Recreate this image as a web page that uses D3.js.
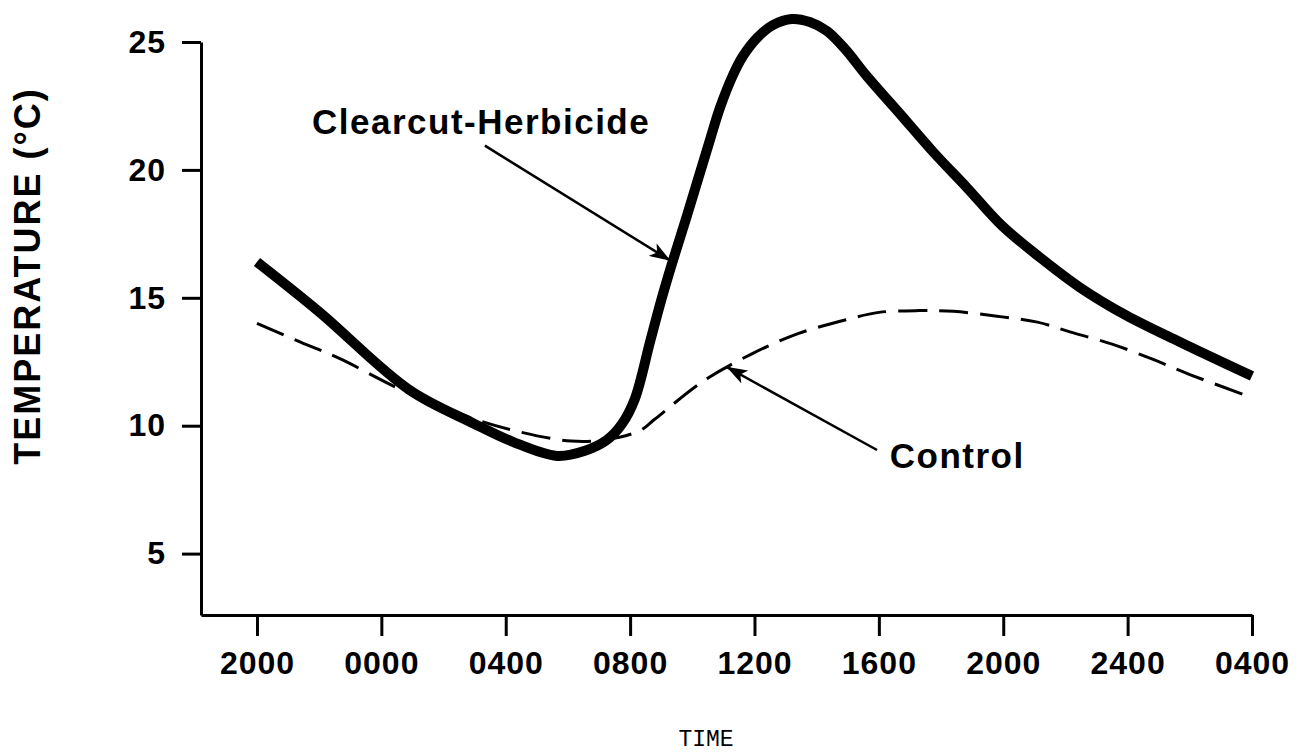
<!DOCTYPE html>
<html>
<head>
<meta charset="utf-8">
<script src="https://cdn.jsdelivr.net/npm/d3@7"></script>
<style>
  body { margin: 0; background: #fff; }
  svg { display: block; }
</style>
</head>
<body>
<script>
// x = hours after 2000 h on the first evening
const tickHours = [0, 4, 8, 12, 16, 20, 24, 28, 32];
const tickLabels = ["2000", "0000", "0400", "0800", "1200", "1600", "2000", "2400", "0400"];
const tempTicks = [5, 10, 15, 20, 25];

// Clearcut-Herbicide
const clearcutHours = [0, 2, 4.9, 6.95, 8.23, 9.65, 10.55, 11.25, 11.74, 12.15, 12.64, 12.99, 13.34, 13.83, 14.57, 14.89, 15.31, 15.63, 16.08, 16.59, 17.2, 17.78, 18.33, 18.91, 19.61, 20.68, 21.74, 22.83, 23.95, 25.18, 26.46, 27.94, 29.68, 32];
const clearcutTemps = [16.4, 14.45, 11.4, 10.1, 9.37, 8.82, 9.02, 9.44, 10.07, 11.04, 13.27, 14.86, 16.31, 18.22, 21.18, 22.43, 23.71, 24.45, 25.16, 25.66, 25.9, 25.78, 25.43, 24.73, 23.67, 22.19, 20.71, 19.31, 17.83, 16.58, 15.41, 14.32, 13.27, 11.94];

// Control
const controlHours = [0, 1.4, 2.7, 4.6, 6.9, 8.3, 10.1, 11.2, 12.3, 12.8, 14.3, 15.9, 17.4, 19.0, 20.0, 21.3, 22.4, 23.8, 25.1, 26.2, 27.5, 28.8, 30.0, 32];
const controlTemps = [14.0, 13.27, 12.6, 11.43, 10.3, 9.8, 9.4, 9.45, 9.8, 10.26, 11.7, 12.8, 13.6, 14.16, 14.43, 14.5, 14.47, 14.28, 14.05, 13.65, 13.19, 12.6, 12.0, 11.1];

const clearcut = clearcutHours.map((h, i) => ({ h: h, t: clearcutTemps[i] }));
const control = controlHours.map((h, i) => ({ h: h, t: controlTemps[i] }));

// annotations in data units: label anchor, arrow start, arrow tip
const notes = [
  { text: "Clearcut-Herbicide", at: [1.77, 21.4], from: [7.33, 20.95], to: [13.3, 16.45] },
  { text: "Control", at: [20.35, 8.35], from: [19.94, 9.05], to: [15.1, 12.3] }
];

const width = 1302, height = 756;

let x = d3.scaleLinear().domain([-1.8, 32]).range([201, 1252]);
let y = d3.scaleLinear().domain([2.6, 25]).range([615, 42]);

let svg = d3.select("body")
  .append("svg")
  .attr("width", width)
  .attr("height", height);

svg.append("defs")
  .append("marker")
  .attr("id", "head")
  .attr("viewBox", "0 0 10 7")
  .attr("refX", 10)
  .attr("refY", 3.5)
  .attr("markerWidth", 21)
  .attr("markerHeight", 14.7)
  .attr("markerUnits", "userSpaceOnUse")
  .attr("orient", "auto")
  .append("path")
  .attr("d", "M0,0 L10,3.5 L0,7 L2.5,3.5 Z")
  .attr("fill", "#000");

// axes
let yAxis = svg.append("g")
  .attr("transform", `translate(${x(-1.8)},0)`)
  .call(d3.axisLeft(y).tickValues(tempTicks).tickSize(19).tickSizeOuter(0).tickPadding(16));

let xAxis = svg.append("g")
  .attr("transform", `translate(0,${y(2.6)})`)
  .call(d3.axisBottom(x).tickValues(tickHours).tickSize(21).tickSizeOuter(0).tickPadding(15)
    .tickFormat((d, i) => tickLabels[i]));

[yAxis, xAxis].forEach(a => {
  a.select(".domain").attr("stroke", "#000").attr("stroke-width", 3);
  a.selectAll(".tick line").attr("stroke", "#000").attr("stroke-width", 3);
  a.selectAll(".tick text")
    .attr("fill", "#000")
    .style("font-family", "'Liberation Sans', Arial, sans-serif")
    .style("font-weight", "bold")
    .style("font-size", "32px")
    .style("letter-spacing", "1px");
});

// lines
let line = d3.line()
  .x(d => x(d.h))
  .y(d => y(d.t))
  .curve(d3.curveCatmullRom.alpha(0.5));

svg.append("path")
  .datum(control)
  .attr("d", line)
  .attr("fill", "none")
  .attr("stroke", "#000")
  .attr("stroke-width", 3)
  .attr("stroke-dasharray", "29,12");

svg.append("path")
  .datum(clearcut)
  .attr("d", line)
  .attr("fill", "none")
  .attr("stroke", "#000")
  .attr("stroke-width", 10)
  .attr("stroke-linejoin", "round");

// annotations
let ann = svg.append("g").selectAll("g").data(notes).enter().append("g");

ann.append("line")
  .attr("x1", d => x(d.from[0]))
  .attr("y1", d => y(d.from[1]))
  .attr("x2", d => x(d.to[0]))
  .attr("y2", d => y(d.to[1]))
  .attr("stroke", "#000")
  .attr("stroke-width", 2.5)
  .attr("marker-end", "url(#head)");

ann.append("text")
  .attr("x", d => x(d.at[0]))
  .attr("y", d => y(d.at[1]))
  .text(d => d.text)
  .style("font-family", "'Liberation Sans', Arial, sans-serif")
  .style("font-weight", "bold")
  .style("font-size", "35px")
  .style("letter-spacing", "1.5px");

// axis titles
svg.append("text")
  .attr("transform", "translate(40,276) rotate(-90)")
  .attr("text-anchor", "middle")
  .text("TEMPERATURE (°C)")
  .style("font-family", "'Liberation Sans', Arial, sans-serif")
  .style("font-weight", "bold")
  .style("font-size", "36px")
  .style("letter-spacing", "2px");

svg.append("text")
  .attr("x", 706)
  .attr("y", 746)
  .attr("text-anchor", "middle")
  .text("TIME")
  .style("font-family", "'Liberation Mono', 'Courier New', monospace")
  .style("font-size", "23px");
</script>
</body>
</html>
